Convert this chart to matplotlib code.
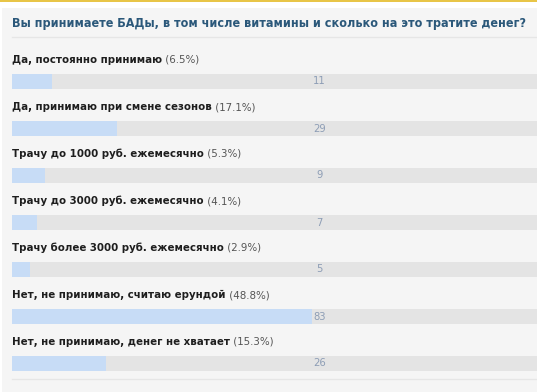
import matplotlib
matplotlib.use("Agg")
import matplotlib.pyplot as plt
from matplotlib.patches import Rectangle
from matplotlib.lines import Line2D

title = "Вы принимаете БАДы, в том числе витамины и сколько на это тратите денег?"
labels = [
    "Да, постоянно принимаю",
    "Да, принимаю при смене сезонов",
    "Трачу до 1000 руб. ежемесячно",
    "Трачу до 3000 руб. ежемесячно",
    "Трачу более 3000 руб. ежемесячно",
    "Нет, не принимаю, считаю ерундой",
    "Нет, не принимаю, денег не хватает",
]
percents = ["6.5%", "17.1%", "5.3%", "4.1%", "2.9%", "48.8%", "15.3%"]
counts = [11, 29, 9, 7, 5, 83, 26]

FONT = "DejaVu Sans"
STRETCH = "condensed"

W, H = 537, 392
DPI = 100
fig = plt.figure(figsize=(W / DPI, H / DPI), dpi=DPI)
fig.patch.set_facecolor("#ffffff")

# background panel
fig.patches.append(Rectangle((2 / W, 0), 1, 1 - 8 / H, transform=fig.transFigure,
                             facecolor="#f5f5f5", edgecolor="none", zorder=-2))
# top gold border
fig.patches.append(Rectangle((0, 1 - 2 / H), 1, 2 / H, transform=fig.transFigure,
                             facecolor="#e8c547", edgecolor="none", zorder=-1))

ax = fig.add_axes([0, 0, 1, 1])
ax.set_facecolor("none")
total = sum(counts)
left_px, track_px = 12, 615
row0, step = 81.5, 47.0
# x: data units are votes; full track spans total votes
ax.set_xlim(-left_px / track_px * total, (W - left_px) / track_px * total)
ax.set_ylim((H - row0) / step, -row0 / step)
ax.axis("off")

n = len(counts)
ys = list(range(n))
bh = 15 / step
ax.barh(ys, [total] * n, height=bh, left=0, color="#e4e4e4", zorder=2)
ax.barh(ys, counts, height=bh, left=0, color="#c7dcf6", zorder=3)

for i, (lab, pct, c) in enumerate(zip(labels, percents, counts)):
    ax.text(total / 2, i, str(c), ha="center", va="center", fontsize=8,
            family=FONT, fontstretch=STRETCH, color="#8d9db5", zorder=4)
    t = ax.annotate(lab, xy=(0, i - 21.5 / step), ha="left", va="center",
                    fontsize=8.2, fontweight="bold", family=FONT, fontstretch=STRETCH,
                    color="#1e1e1e", zorder=4)
    ax.annotate(" (" + pct + ")", xycoords=t, xy=(1, 0.5), ha="left", va="center",
                fontsize=8.2, family=FONT, fontstretch=STRETCH, color="#555555", zorder=4)

fig.text(12 / W, 1 - 23 / H, title, ha="left", va="center", fontsize=9.0,
         fontweight="bold", family=FONT, fontstretch=STRETCH, color="#2b587a")

fig.add_artist(Line2D([12 / W, 1], [1 - 37 / H] * 2, color="#e6e6e6", lw=1))
fig.add_artist(Line2D([12 / W, 1], [1 - 379 / H] * 2, color="#e6e6e6", lw=1))

fig.savefig("out.png", dpi=DPI)
